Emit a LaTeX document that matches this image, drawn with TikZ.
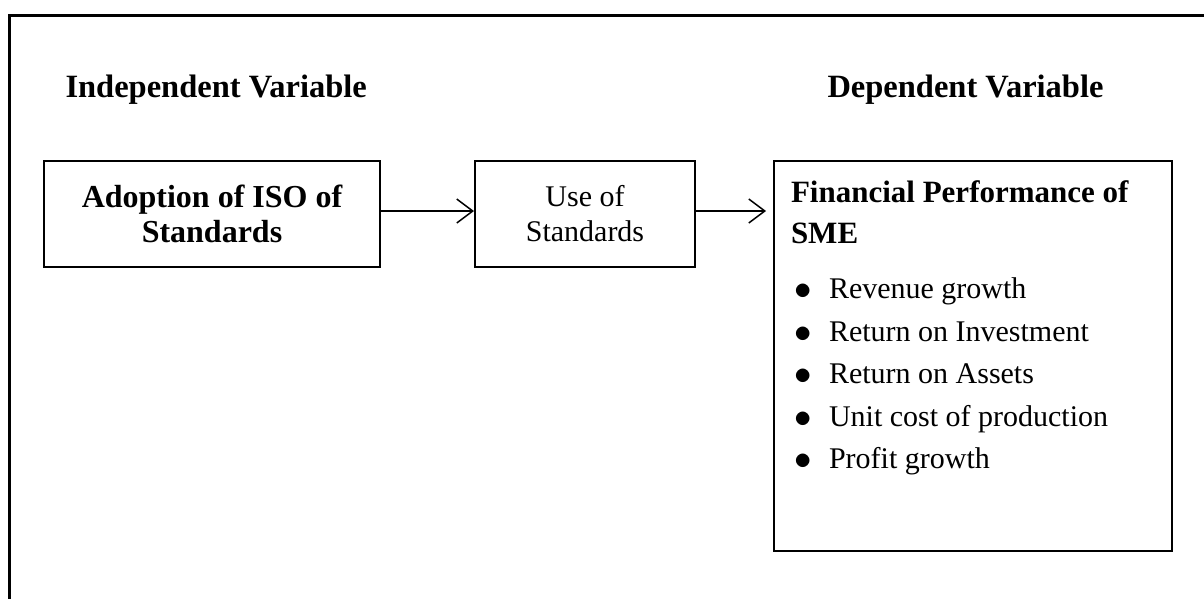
\documentclass[tikz,border=0pt]{standalone}
\usepackage{fontspec}
\setmainfont{Liberation Serif}
\usetikzlibrary{positioning}
\usetikzlibrary{arrows.meta}

\newcommand\perfitem[1]{\makebox[38pt][l]{\hspace{3pt}\raisebox{-1pt}{\scalebox{1.4}{$\bullet$}}}#1}

\begin{document}
\begin{tikzpicture}[x=1pt, y=-1pt,
    box/.style={draw, line width=2pt, font=\fontsize{30}{35}\selectfont, align=center, minimum height=106pt, inner sep=0pt},
    head/.style={font=\fontsize{32.5}{36}\selectfont\bfseries},
    link/.style={-{Straight Barb[length=16pt,width=24pt]}, line width=1.5pt}]
    \useasboundingbox (0,0) rectangle (1204,598);
    \clip (0,0) rectangle (1204,598);
    % outer frame, cut off at the right and the bottom
    \draw[line width=3pt] (9,610) |- (1215,15);

    \node[head, anchor=base west] (indep) at (62,97) {Independent Variable};
    \node[head, anchor=base east] (dep) at (1107,97) {Dependent Variable};

    \node[box, font=\fontsize{32}{35}\selectfont\bfseries, minimum width=336pt, anchor=north west] (adopt) at (43,160) {Adoption of ISO of\\Standards};
    \node[box, minimum width=220pt, right=93pt of adopt] (use) {Use of\\Standards};
    \node[box, right=77pt of use.north east, anchor=north west, align=left, inner xsep=17pt, inner ysep=20pt] (perf) {%
        \begin{minipage}[t][350pt][t]{364pt}
        \fontsize{30}{41}\selectfont\raggedright
        {\fontsize{31}{41}\selectfont\bfseries Financial Performance of}\\
        {\fontsize{31}{41}\selectfont\bfseries SME}\\[14pt]
        \perfitem{Revenue growth}\\[1.5pt]
        \perfitem{Return on Investment}\\[1.5pt]
        \perfitem{Return on Assets}\\[1.5pt]
        \perfitem{Unit cost of production}\\[1.5pt]
        \perfitem{Profit growth}
        \end{minipage}};

    \draw[link] ([yshift=3pt]adopt.east) -- ([yshift=3pt]use.west);
    \draw[link, shorten >=7pt] ([yshift=3pt]use.east) -- ([yshift=3pt]use.east -| perf.west);
\end{tikzpicture}
\end{document}
